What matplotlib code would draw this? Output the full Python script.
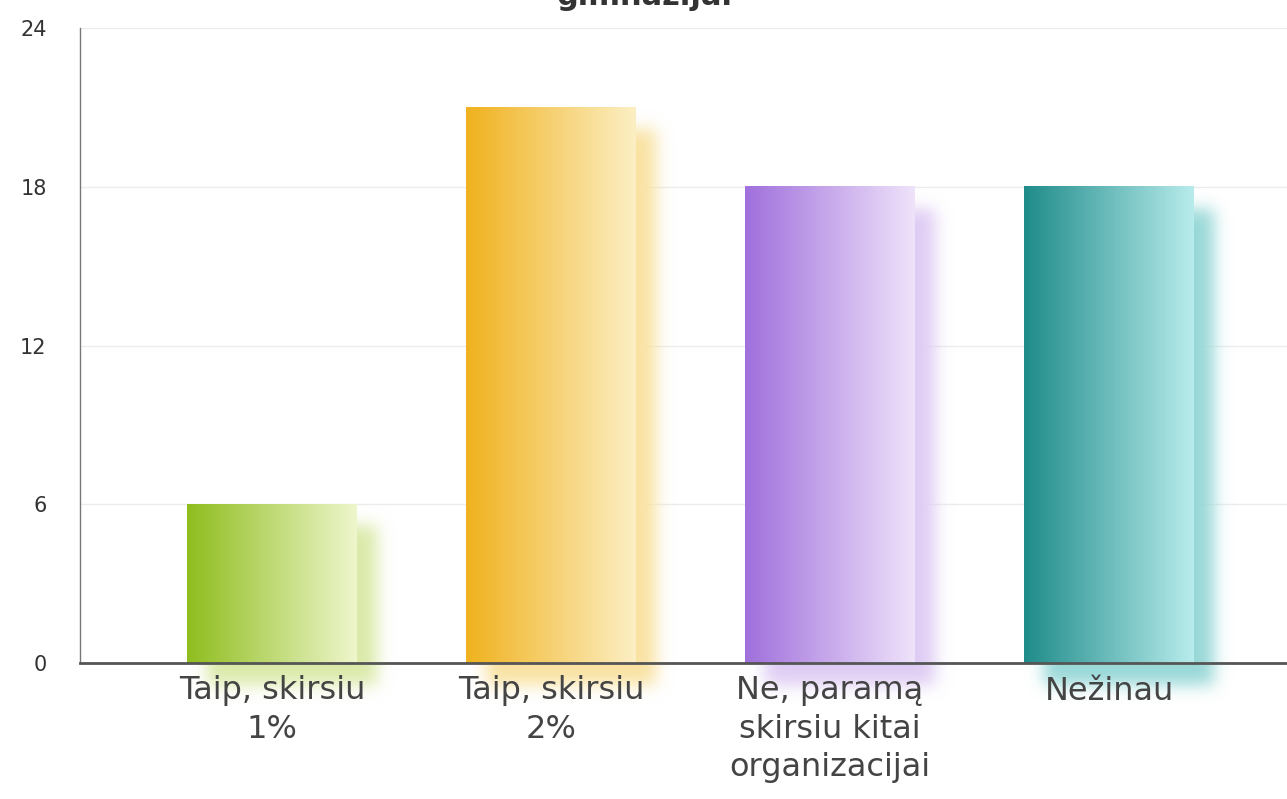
import numpy as np
import matplotlib
matplotlib.use("Agg")
import matplotlib.pyplot as plt
from matplotlib.colors import to_rgb

categories = ["Taip, skirsiu\n1%", "Taip, skirsiu\n2%", "Ne, paramą\nskirsiu kitai\norganizacijai", "Nežinau"]
values = [6, 21, 18, 18]
dark_colors = ["#8fbd1e", "#f0b21e", "#a070dc", "#1f8c8a"]
light_colors = ["#eef6cc", "#fcefc4", "#efe3fa", "#b8ecec"]
yticks = [0, 6, 12, 18, 24]
title = "gimnazijai"

W, H, DPI = 1287, 799, 100
fig = plt.figure(figsize=(W / DPI, H / DPI), dpi=DPI)
ax_left, ax_right, ax_top, ax_bottom = 80, 1287, 28, 663
ax = fig.add_axes([ax_left / W, (H - ax_bottom) / H, (ax_right - ax_left) / W, (ax_bottom - ax_top) / H])

px_per_x = 279.0
x0_px = 272.0
xmin = (ax_left - x0_px) / px_per_x
xmax = (ax_right - x0_px) / px_per_x
ymin, ymax = 0, 24
px_per_y = (ax_bottom - ax_top) / (ymax - ymin)

bar_w = 170 / px_per_x


def gauss_blur(img, sigma):
    r = int(3 * sigma)
    k = np.exp(-0.5 * (np.arange(-r, r + 1) / sigma) ** 2)
    k /= k.sum()
    img = np.apply_along_axis(lambda m: np.convolve(m, k, mode="same"), 0, img)
    img = np.apply_along_axis(lambda m: np.convolve(m, k, mode="same"), 1, img)
    return img


for i, (v, dc, lc) in enumerate(zip(values, dark_colors, light_colors)):
    xl = i - bar_w / 2
    xr = i + bar_w / 2
    # soft shadow, offset right and down
    dx_px, dy_px, sig = 20, 22, 8
    bw_px = int(round(bar_w * px_per_x))
    bh_px = int(round(v * px_per_y))
    pad = 34
    img_w = bw_px + 2 * pad
    img_h = bh_px + 2 * pad
    mask = np.zeros((img_h, img_w))
    mask[pad:pad + bh_px, pad:pad + bw_px] = 1.0
    mask = gauss_blur(mask, sig)
    c0 = np.array(to_rgb(dc))
    c1 = np.array(to_rgb(lc))
    sc = 0.8 * c1 + 0.2 * c0
    rgba = np.zeros((img_h, img_w, 4))
    rgba[..., :3] = sc
    rgba[..., 3] = np.clip(mask * 1.0, 0, 1)
    sx0 = xl + (dx_px - pad) / px_per_x
    sx1 = sx0 + img_w / px_per_x
    sy1 = v + (-dy_px + pad) / px_per_y
    sy0 = sy1 - img_h / px_per_y
    ax.imshow(rgba, extent=[sx0, sx1, sy0, sy1], aspect="auto", zorder=1,
              interpolation="bilinear", clip_on=False)
    # horizontal gradient bar
    n = 256
    t = np.linspace(0, 1, n)
    grad = c0[None, :] * (1 - t[:, None]) + c1[None, :] * t[:, None]
    gimg = np.tile(grad[None, :, :], (2, 1, 1))
    ax.imshow(gimg, extent=[xl, xr, 0, v], aspect="auto", zorder=2, interpolation="bilinear")

ax.set_xlim(xmin, xmax)
ax.set_ylim(ymin, ymax)

ax.set_yticks(yticks)
ax.set_yticklabels([str(t) for t in yticks])
ax.yaxis.grid(True, color="#ececec", linewidth=1)
ax.yaxis.set_zorder(0.5)
ax.tick_params(axis="y", length=0, pad=24, labelsize=15, labelcolor="#333333")
ax.set_xticks(range(len(categories)))
ax.set_xticklabels(categories, fontsize=23, color="#444444", linespacing=1.3)
ax.tick_params(axis="x", length=0, pad=9)
ax.xaxis.set_zorder(6)
for s in ["top", "right"]:
    ax.spines[s].set_visible(False)
ax.spines["left"].set_color("#777777")
ax.spines["left"].set_linewidth(1.0)
ax.spines["bottom"].set_color("#555555")
ax.spines["bottom"].set_linewidth(2.0)
ax.spines["bottom"].set_zorder(5)

fig.text(645 / W, 1 - 5 / H, title, ha="center", va="baseline", fontsize=22,
         fontweight="bold", color="#333333")

fig.savefig("out.png", dpi=DPI)
